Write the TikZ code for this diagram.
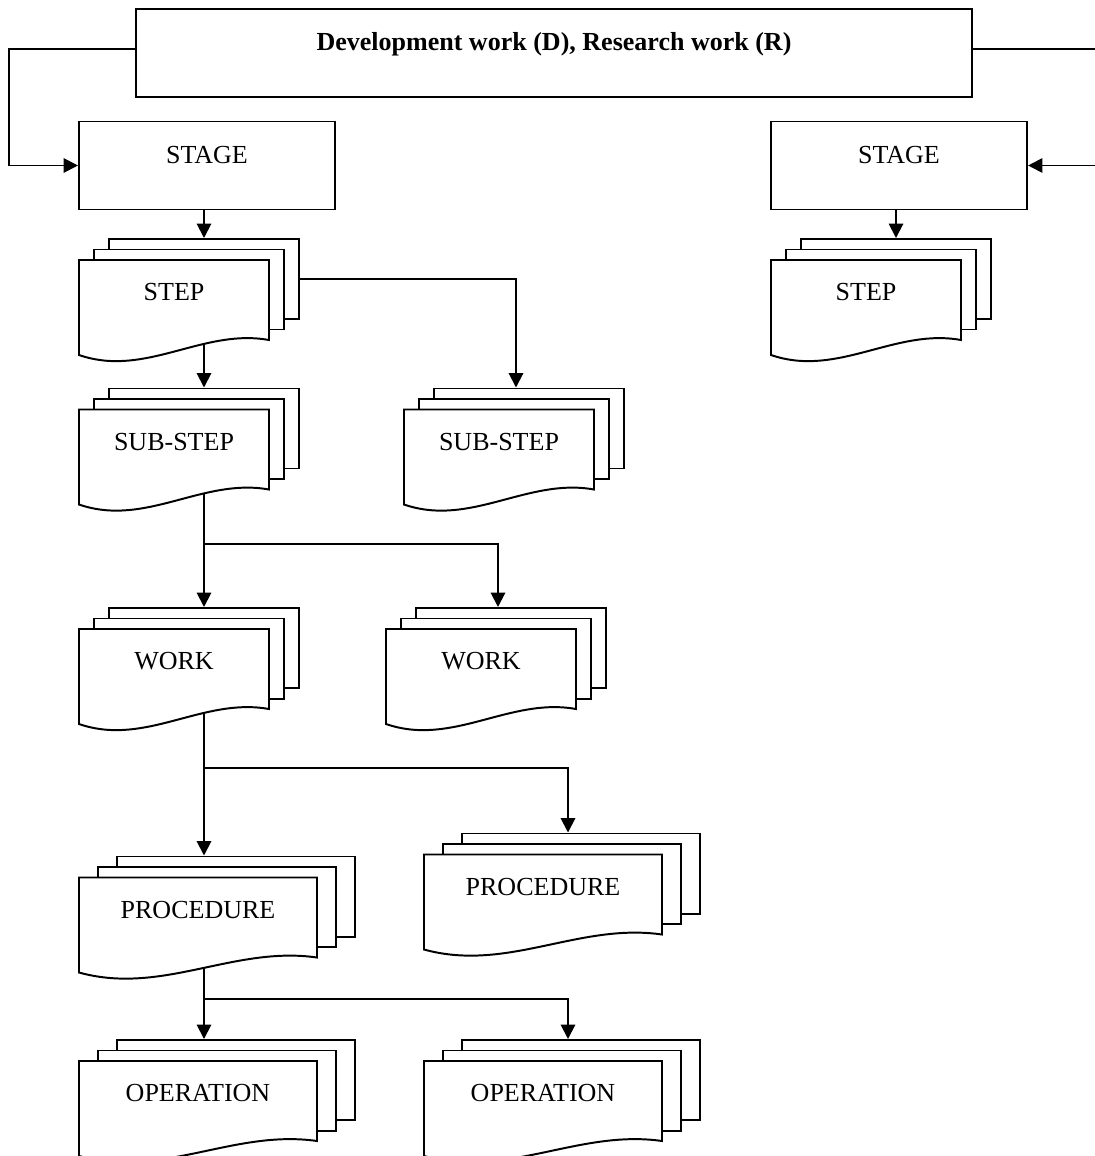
\documentclass[tikz,border=0pt]{standalone}
\usepackage{fontspec}
\setmainfont{Liberation Serif}
\usetikzlibrary{calc, backgrounds, arrows.meta}

\tikzset{
  paper/.style={draw, fill=white, line width=1.4pt},
  sheet/.style={paper, minimum height=2cm, inner sep=0pt},
  box/.style={paper, minimum height=2.2cm, inner sep=0pt, text height=0.45cm, text depth=0.55cm},
  sheettext/.style={inner sep=0pt, minimum height=2cm, text height=0.45cm, text depth=0.42cm},
  link/.style={line width=1.4pt, ->, >={Triangle[length=3.6mm, width=3.6mm]}}
}

% stack of three sheets, the front one with a wavy lower edge
% #1 name, #2 centre of the front sheet, #3 width, #4 shift of each sheet, #5 text
\newcommand{\docstack}[5]{%
  \node[sheet, minimum width=#3*0.025cm] (#1-back) at ($(#2)+(2*#4,-21)$) {};
  \node[sheet, minimum width=#3*0.025cm] (#1-mid) at ($(#2)+(#4,-10.5)$) {};
  \draw[paper] ($(#2)+(-#3/2,-40)$) -- ($(#2)+(#3/2,-40)$) -- ($(#2)+(#3/2,40)$)
    .. controls ($(#2)+(0.15*#3,28)$) and ($(#2)+(-0.15*#3,78)$) .. ($(#2)+(-#3/2,55)$) -- cycle;
  \node[sheettext, minimum width=#3*0.025cm] (#1) at (#2) {#5};
}

\begin{document}
\begin{tikzpicture}[x=0.025cm, y=-0.025cm, font=\fontsize{18.5}{22}\selectfont]
    \useasboundingbox (0,0) rectangle (1094,1156);
    \clip (0,0) rectangle (1094,1156);

    \node[box, minimum width=20.9cm, font=\fontsize{18.5}{22}\selectfont\bfseries] (top) at (554,53) {Development work (D), Research work (R)};
    \node[box, minimum width=6.4cm] (stageL) at (207,165.5) {STAGE};
    \node[box, minimum width=6.4cm] (stageR) at (899,165.5) {STAGE};

    \docstack{stepL}{174,300}{190}{15}{STEP}
    \docstack{stepR}{866,300}{190}{15}{STEP}
    \docstack{subL}{174,449.5}{190}{15}{SUB-STEP}
    \docstack{subR}{499,449.5}{190}{15}{SUB-STEP}
    \docstack{workL}{174,669}{190}{15}{WORK}
    \docstack{workR}{481,669}{190}{15}{WORK}
    \docstack{procL}{198,917.5}{238}{19}{PROCEDURE}
    \docstack{procR}{543,894.5}{238}{19}{PROCEDURE}
    \docstack{opL}{198,1101}{238}{19}{OPERATION}
    \docstack{opR}{543,1101}{238}{19}{OPERATION}

    \coordinate (fork1) at (204,544);
    \coordinate (fork2) at (204,768);
    \coordinate (fork3) at (204,999);

    % connectors go behind the sheets
    \begin{scope}[on background layer]
        \draw[link] ([yshift=1mm]top.west) -- ++(-126,0) |- (stageL.west);
        \draw[link] ([yshift=1mm]top.east) -- ++(126,0) |- (stageR.east);
        \draw[link] (stageL.south -| stepL-back.north) -- (stepL-back.north);
        \draw[link] (stageR.south -| stepR-back.north) -- (stepR-back.north);
        \draw[link] (stepL-back) -- (subL-back.north);
        \draw[link] (stepL-back.east) -| ($(subR-back.north)+(-13,0)$);
        \draw[link] (subL-back) -- (workL-back.north);
        \draw[link] (fork1) -| ($(workR-back.north)+(-13,0)$);
        \draw[link] (workL-back) -- (workL-back |- procL-back.north);
        \draw[link] (fork2) -| ($(procR-back.north)+(-13,0)$);
        \draw[link] (procL-back -| workL-back) -- (opL-back.north -| workL-back);
        \draw[link] (fork3) -| ($(opR-back.north)+(-13,0)$);
    \end{scope}
\end{tikzpicture}
\end{document}
